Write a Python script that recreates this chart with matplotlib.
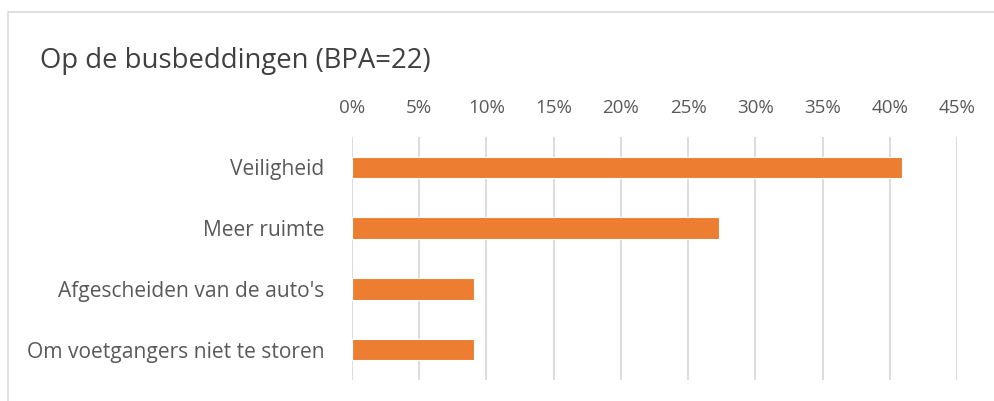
import matplotlib.pyplot as plt
from matplotlib.patches import Rectangle
from matplotlib.ticker import PercentFormatter, MultipleLocator

# survey answers (share of respondents, n=22)
categories = ["Veiligheid", "Meer ruimte", "Afgescheiden van de auto's", "Om voetgangers niet te storen"]
shares = [9 / 22 * 100, 6 / 22 * 100, 2 / 22 * 100, 2 / 22 * 100]
title = "Op de busbeddingen (BPA=22)"

plt.rcParams['font.family'] = ['Open Sans', 'DejaVu Sans']
text_col = "#595959"

fig = plt.figure(figsize=(9.94, 4.01), dpi=100)

# chart frame
fig.patches.append(Rectangle((8 / 994, -0.1), 1.2, (401 - 12) / 401 + 0.1,
                             transform=fig.transFigure, fill=False,
                             edgecolor="#D9D9D9", linewidth=1.2))

ax = fig.add_axes([352 / 994, 1 - 380 / 401, (957 - 352) / 994, (380 - 137) / 401])
y = range(len(categories))
ax.barh(y, shares, height=0.35, color="#ED7D31", edgecolor="white", linewidth=0.8, zorder=3)
ax.set_ylim(len(categories) - 0.5, -0.5)
ax.set_xlim(0, 45)
ax.xaxis.set_major_locator(MultipleLocator(5))
ax.xaxis.set_major_formatter(PercentFormatter(decimals=0))
ax.xaxis.tick_top()
ax.set_yticks(list(y))
ax.set_yticklabels(categories)
ax.tick_params(axis='both', length=0, colors=text_col)
ax.tick_params(axis='x', pad=14.5, labelsize=13.5)
ax.tick_params(axis='y', pad=20, labelsize=15.1)
ax.grid(axis='x', color="#D9D9D9", linewidth=1.3, zorder=0)
for s in ax.spines.values():
    s.set_visible(False)

fig.text(40 / 994, 1 - 61 / 401, title, fontsize=19.8, color="#404040", va='center', ha='left')

fig.savefig("out.png", dpi=100)
